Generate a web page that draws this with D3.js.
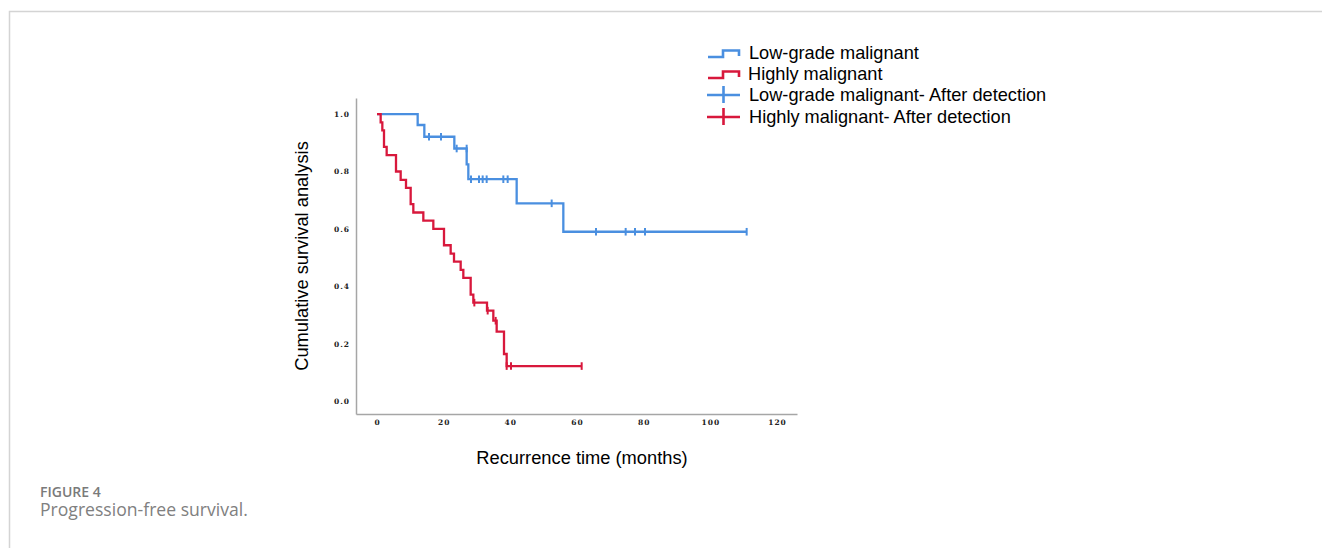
<!DOCTYPE html>
<html>
<head>
<meta charset="utf-8">
<script src="https://cdn.jsdelivr.net/npm/d3@7"></script>
<style>
  body { margin: 0; background: #fff; position: relative; }
  svg { display: block; }
  .caption { position: absolute; left: 40px; font-family: "Open Sans", sans-serif; line-height: 1; white-space: nowrap; }
</style>
</head>
<body>
<svg width="1322" height="548"></svg>
<script>
// step data: [time, survival after the drop]
const lowGrade = [[0, 1.0], [12.2, 0.962], [14.2, 0.921], [23.2, 0.880], [26.9, 0.825], [27.4, 0.773],
    [41.9, 0.689], [55.9, 0.590], [110.9, 0.590]];
const lowGradeCensor = [[15.6, 0.921], [19.2, 0.921], [23.9, 0.880], [26.9, 0.880], [28.2, 0.773], [30.6, 0.773],
    [31.7, 0.773], [32.9, 0.773], [37.9, 0.773], [39.2, 0.773], [52.4, 0.689], [65.7, 0.590],
    [74.6, 0.590], [77.4, 0.590], [80.4, 0.590], [110.9, 0.590]];

const highGrade = [[0, 1.0], [1.1, 0.971], [1.6, 0.943], [2.1, 0.886], [2.9, 0.857], [5.7, 0.800], [7.1, 0.771],
    [8.7, 0.743], [10.1, 0.686], [10.9, 0.657], [13.9, 0.629], [16.9, 0.600], [20.1, 0.543], [22.1, 0.514],
    [23.1, 0.486], [25.1, 0.457], [25.9, 0.429], [28.1, 0.371], [28.9, 0.343], [33.0, 0.315], [34.9, 0.280],
    [35.9, 0.242], [38.1, 0.164], [38.9, 0.122], [61.4, 0.122]];
const highGradeCensor = [[29.2, 0.343], [33.2, 0.315], [35.6, 0.280], [38.9, 0.122], [40.2, 0.122], [61.4, 0.122]];

const xTicks = [0, 20, 40, 60, 80, 100, 120];
const yTicks = [0.0, 0.2, 0.4, 0.6, 0.8, 1.0];

const legendLabels = ["Low-grade malignant", "Highly malignant",
    "Low-grade malignant- After detection", "Highly malignant- After detection"];

const blue = "#4a8fe0";
const red = "#d8183c";
const labelFont = 'Arial, "Liberation Sans", sans-serif';

const svg = d3.select('svg');

// frame lines of the page
svg.append('path')
    .attr('d', 'M9.5,548 V11.5 H1322')
    .attr('fill', 'none')
    .attr('stroke', '#d4d4d4')
    .attr('stroke-width', 1.5);

const x = d3.scaleLinear().domain([-6.3, 126]).range([356, 797]);
const y = d3.scaleLinear().domain([-0.045, 1.056]).range([414, 98]);

// axes, no tick marks
const xAxis = d3.axisBottom(x).tickValues(xTicks).tickSize(0).tickPadding(6).tickFormat(d3.format('d'));
const yAxis = d3.axisLeft(y).tickValues(yTicks).tickSize(0).tickPadding(6).tickFormat(d3.format('.1f'));

const gx = svg.append('g').attr('transform', 'translate(0,414)').call(xAxis);
const gy = svg.append('g').attr('transform', 'translate(356,0)').call(yAxis);

[gx, gy].forEach(g => {
    g.select('.domain').attr('stroke', '#a6a6a6').attr('stroke-width', 1.5);
    g.selectAll('text')
        .attr('fill', '#222')
        .style('font-family', '"DejaVu Serif", "Liberation Serif", serif')
        .style('font-weight', 'bold')
        .style('font-size', '7.5px')
        .style('letter-spacing', '1px');
});

// axis titles
svg.append('text')
    .attr('x', 582).attr('y', 464)
    .attr('text-anchor', 'middle')
    .style('font-family', labelFont)
    .style('font-size', '18.3px')
    .attr('fill', '#000')
    .text('Recurrence time (months)');

svg.append('text')
    .attr('transform', 'translate(307.5,256) rotate(-90)')
    .attr('text-anchor', 'middle')
    .style('font-family', labelFont)
    .style('font-size', '18.3px')
    .attr('fill', '#000')
    .text('Cumulative survival analysis');

// survival curves
const line = d3.line().x(d => x(d[0])).y(d => y(d[1])).curve(d3.curveStepAfter);

function drawSeries(data, censor, color) {
    svg.append('path')
        .datum(data)
        .attr('d', line)
        .attr('fill', 'none')
        .attr('stroke', color)
        .attr('stroke-width', 2.3);
    svg.append('g').selectAll('line')
        .data(censor)
        .enter()
        .append('line')
            .attr('x1', d => x(d[0])).attr('x2', d => x(d[0]))
            .attr('y1', d => y(d[1]) - 3.8).attr('y2', d => y(d[1]) + 3.8)
            .attr('stroke', color)
            .attr('stroke-width', 2);
}
drawSeries(lowGrade, lowGradeCensor, blue);
drawSeries(highGrade, highGradeCensor, red);

// legend
const legend = svg.append('g');
const rowsY = [52, 73, 94, 116];
const colors = [blue, red, blue, red];

legendLabels.forEach((label, i) => {
    const cy = rowsY[i];
    if (i < 2) {
        // little step icon
        legend.append('path')
            .attr('d', `M708,${cy + 5} H723 V${cy - 1.5} H739 V${cy + 4}`)
            .attr('fill', 'none')
            .attr('stroke', colors[i])
            .attr('stroke-width', 2.6);
    } else {
        // cross icon for censored marks
        legend.append('path')
            .attr('d', `M707,${cy + 1} H740 M723.5,${cy - 8} V${cy + 9}`)
            .attr('fill', 'none')
            .attr('stroke', colors[i])
            .attr('stroke-width', 2.6);
    }
    legend.append('text')
        .attr('x', i === 1 ? 748 : 749)
        .attr('y', cy + 6.5)
        .style('font-family', labelFont)
        .style('font-size', '18.2px')
        .attr('fill', '#000')
        .text(label);
});

// caption, as html lines with tight line boxes
d3.select('body').append('div')
    .attr('class', 'caption')
    .style('top', '484.6px')
    .style('font-size', '14px')
    .style('font-weight', 600)
    .style('color', '#7a7a7a')
    .text('FIGURE 4');

d3.select('body').append('div')
    .attr('class', 'caption')
    .style('top', '501.4px')
    .style('font-size', '17.6px')
    .style('color', '#808080')
    .text('Progression-free survival.');
</script>
</body>
</html>
